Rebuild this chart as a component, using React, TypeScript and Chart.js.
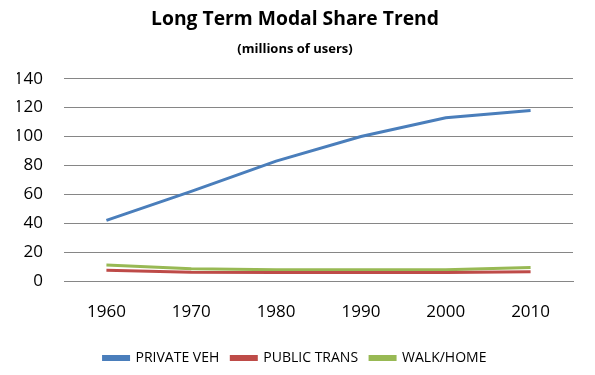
import React, { useEffect, useRef } from "react";
import { Chart, registerables } from "chart.js";

Chart.register(...registerables);

const years = ["1960", "1970", "1980", "1990", "2000", "2010"];
const privateVeh = [42, 62, 83, 100, 113, 118];
const publicTrans = [7.5, 6, 5.8, 5.8, 5.8, 6.4];
const walkHome = [11, 8.5, 7.8, 7.8, 7.8, 9.4];
const yTicks = [0, 20, 40, 60, 80, 100, 120, 140];

const FONT = "'Open Sans', 'Liberation Sans', sans-serif";

export default function App() {
  const ref = useRef<HTMLCanvasElement | null>(null);
  useEffect(() => {
    if (!ref.current) return;
    const chart = new Chart(ref.current, {
      type: "line",
      data: {
        labels: years,
        datasets: [
          { label: "PRIVATE VEH", data: privateVeh, borderColor: "#4A7EBB", backgroundColor: "#4A7EBB", borderWidth: 3, pointRadius: 0, tension: 0 },
          { label: "PUBLIC TRANS", data: publicTrans, borderColor: "#BE4B48", backgroundColor: "#BE4B48", borderWidth: 3, pointRadius: 0, tension: 0 },
          { label: "WALK/HOME", data: walkHome, borderColor: "#98B954", backgroundColor: "#98B954", borderWidth: 3, pointRadius: 0, tension: 0 },
        ],
      },
      options: {
        animation: false,
        responsive: false,
        layout: { padding: { left: 17, right: 22, top: 0, bottom: 0 } },
        plugins: {
          title: {
            display: true,
            text: "Long Term Modal Share Trend",
            color: "#000",
            font: { family: FONT, size: 19.3, weight: "bold" },
            padding: { top: 8, bottom: 10 },
          },
          subtitle: {
            display: true,
            text: "(millions of users)",
            color: "#000",
            font: { family: FONT, size: 13, weight: "bold" },
            padding: { top: 0, bottom: 22 },
          },
          legend: {
            position: "bottom",
            labels: {
              color: "#000",
              font: { family: FONT, size: 14 },
              boxWidth: 25,
              boxHeight: 3,
              padding: 12,
            },
          },
          tooltip: { enabled: false },
        },
        scales: {
          x: {
            offset: true,
            afterFit: (s: any) => { s.height = 58; },
            grid: { display: false, drawTicks: false },
            border: { display: true, color: "#868686" },
            ticks: { color: "#000", font: { family: FONT, size: 17 }, padding: 21 },
          },
          y: {
            min: 0,
            max: 140,
            afterBuildTicks: (s: any) => { s.ticks = yTicks.map((v) => ({ value: v })); },
            afterFit: (s: any) => { s.width = 47; },
            grid: { color: "#868686", drawTicks: false },
            border: { display: false },
            ticks: { color: "#000", font: { family: FONT, size: 17 }, padding: 21 },
          },
        },
      },
    });
    return () => chart.destroy();
  }, []);
  return (
    <div style={{ position: "absolute", left: 0, top: 0, width: 595, height: 375, background: "#fff" }}>
      <canvas ref={ref} width={595} height={375} />
    </div>
  );
}
